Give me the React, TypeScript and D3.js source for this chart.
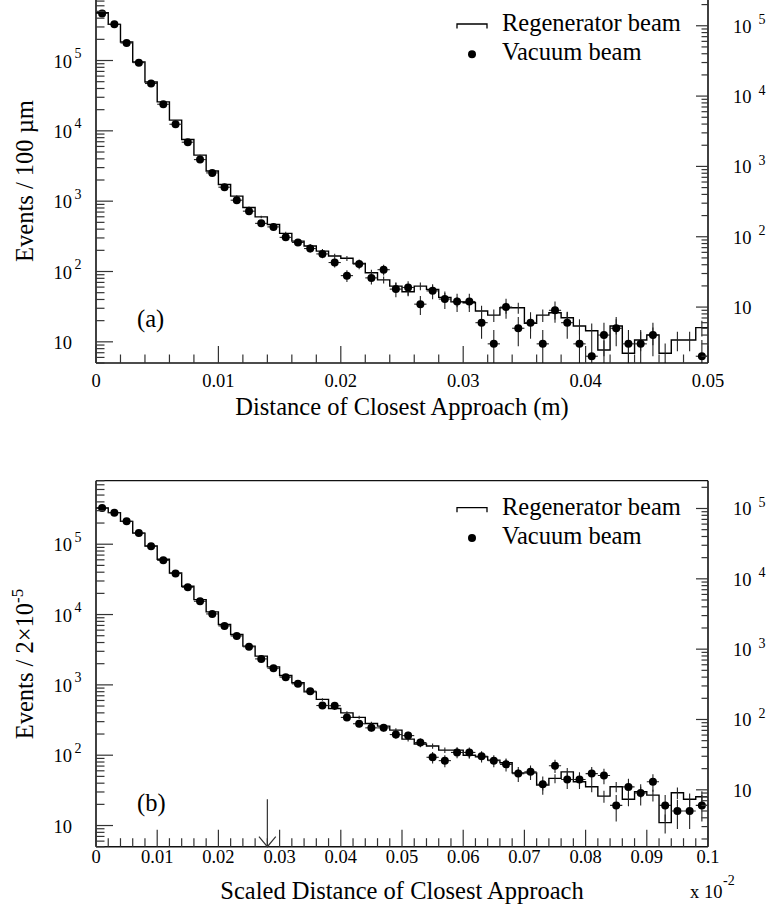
import React from 'react';
import * as d3 from 'd3';

// Canvas
const WIDTH = 767;
const HEIGHT = 915;
const FONT = "'Liberation Serif', 'Times New Roman', serif";

// Shared vertical range of both panels (events, left axis)
const Y_DOMAIN: [number, number] = [5, 8e5];

// Panel (a): distance of closest approach, 50 bins of 1 mm
const xDomainA: [number, number] = [0, 0.05];
const xTicksA = [0, 0.01, 0.02, 0.03, 0.04, 0.05];
const xTickLabelsA = ['0', '0.01', '0.02', '0.03', '0.04', '0.05'];
const vacuumNormA = 3.12; // regenerator / vacuum normalisation (right axis)

const regeneratorA = [
  480000, 327000, 183000, 95300, 49500, 25800, 14200, 7530, 4510, 2690,
  1730, 1180, 814, 598, 467, 348, 270, 230, 195, 166,
  154, 130, 96, 76, 62, 51.5, 62, 55.7, 42.9, 37.1,
  36, 27.4, 24, 30.5, 30.5, 18.3, 24, 25.9, 22, 16.8,
  14.4, 7.65, 16.8, 6.87, 10.6, 12.5, 6.87, 10.6, 10.6, 15.9,
];
const vacuumA = [
  150000, 105000, 56900, 29900, 15100, 7660, 3980, 2210, 1250, 809,
  507, 331, 231, 155, 138, 98, 83, 68, 57, 43,
  28, 41, 26, 34, 18, 19, 11, 17, 13, 12,
  12, 6, 3, 10, 5, 6, 3, 9, 6, 3,
  2, 4, 5, 3, 3, 4, 0, 0, 0, 2,
];

// Panel (b): scaled distance of closest approach (x 10^-2), 50 bins
const xDomainB: [number, number] = [0, 0.1];
const xTicksB = [0, 0.01, 0.02, 0.03, 0.04, 0.05, 0.06, 0.07, 0.08, 0.09, 0.1];
const xTickLabelsB = ['0', '0.01', '0.02', '0.03', '0.04', '0.05', '0.06', '0.07', '0.08', '0.09', '0.1'];
const vacuumNormB = 3.22;
const cutB = 0.028;

const regeneratorB = [
  327000, 281000, 211000, 144000, 94400, 61000, 39000, 25200, 16300, 10900,
  7210, 5200, 3550, 2560, 1800, 1360, 1070, 796, 621, 462,
  400, 345, 283, 259, 227, 169, 144, 135, 118, 118,
  100, 95, 85, 78, 56, 56, 37.6, 46.9, 58, 41.9,
  35.6, 26.2, 35.6, 23.6, 30.2, 27.1, 11, 29.2, 23.6, 25.6,
];
const vacuumB = [
  101500, 87300, 65700, 44800, 29000, 18300, 11900, 7590, 4800, 3170,
  2140, 1540, 1080, 727, 536, 400, 321, 253, 158, 157,
  107, 87, 76, 76, 61, 59, 47, 29, 26, 34,
  34, 30, 26, 23, 17, 18, 12, 22, 14, 14,
  17, 16, 6, 11, 9, 13, 6, 5, 5, 6,
];

const legendLabels = ['Regenerator beam', 'Vacuum beam'];

// Frame geometry
const LEFT = 96;
const RIGHT = 708;
const PANEL_H = 366;

type PanelProps = {
  id: string;
  top: number;
  xDomain: [number, number];
  xTicks: number[];
  xTickLabels: string[];
  xMinorStep: number;
  regenerator: number[];
  vacuum: number[];
  vacuumNorm: number;
  tickLabelDy: number;
  tag: string;
  xTitle: string;
  yTitle: React.ReactNode;
  yTitleCenter: number;
  cut?: number;
  multiplier?: boolean;
};

function logTicks(lo: number, hi: number) {
  const out: { v: number; major: boolean; exp: number }[] = [];
  for (let e = -1; e <= 7; e++) {
    for (let m = 1; m <= 9; m++) {
      const v = m * Math.pow(10, e);
      if (v >= lo * 0.9999 && v <= hi * 1.0001) out.push({ v, major: m === 1, exp: e });
    }
  }
  return out;
}

function Panel(p: PanelProps) {
  const bottom = p.top + PANEL_H;
  const x = d3.scaleLinear().domain(p.xDomain).range([LEFT, RIGHT]);
  const y = d3.scaleLog().domain(Y_DOMAIN).range([bottom, p.top]);
  const yR = d3
    .scaleLog()
    .domain([Y_DOMAIN[0] / p.vacuumNorm, Y_DOMAIN[1] / p.vacuumNorm])
    .range([bottom, p.top]);
  const nb = p.regenerator.length;
  const bw = (p.xDomain[1] - p.xDomain[0]) / nb;

  // regenerator histogram outline
  const pts: [number, number][] = [];
  p.regenerator.forEach((v, i) => {
    pts.push([x(i * bw), y(v)]);
    pts.push([x((i + 1) * bw), y(v)]);
  });
  const histPath = d3.line()(pts) || '';

  const clipId = `clip-${p.id}`;
  const leftTicks = logTicks(Y_DOMAIN[0], Y_DOMAIN[1]);
  const rightTicks = logTicks(yR.domain()[0], yR.domain()[1]);
  const minorX = d3.range(0, Math.round((p.xDomain[1] - p.xDomain[0]) / p.xMinorStep) + 1).map((k) => k * p.xMinorStep);

  const tickStroke = '#333';

  return (
    <g>
      <defs>
        <clipPath id={clipId}>
          <rect x={LEFT} y={p.top} width={RIGHT - LEFT} height={PANEL_H} />
        </clipPath>
      </defs>

      {/* data */}
      <g clipPath={`url(#${clipId})`}>
        <path d={histPath} fill="none" stroke="#000" strokeWidth={1.4} />
        {p.regenerator.map((v, i) => {
          const e = Math.sqrt(v);
          const cx = x((i + 0.5) * bw);
          const lo = v - e > 0 ? y(v - e) : bottom + 5;
          return <line key={`re${i}`} x1={cx} x2={cx} y1={y(v + e)} y2={lo} stroke="#222" strokeWidth={1.1} />;
        })}
        {p.vacuum.map((c, i) => {
          if (c <= 0) return null;
          const e = Math.sqrt(c);
          const cx = x((i + 0.5) * bw);
          const cy = yR(c);
          const lo = c - e > 0 ? yR(c - e) : bottom + 5;
          return (
            <g key={`va${i}`}>
              <line x1={x(i * bw)} x2={x((i + 1) * bw)} y1={cy} y2={cy} stroke="#222" strokeWidth={1.1} />
              <line x1={cx} x2={cx} y1={yR(c + e)} y2={lo} stroke="#222" strokeWidth={1.1} />
              <circle cx={cx} cy={cy} r={4} fill="#000" />
            </g>
          );
        })}
      </g>

      {/* frame */}
      <line x1={LEFT} x2={RIGHT} y1={p.top} y2={p.top} stroke="#111" strokeWidth={1.3} />
      <line x1={LEFT} x2={RIGHT} y1={bottom} y2={bottom} stroke="#111" strokeWidth={1.6} />
      <line x1={LEFT} x2={LEFT} y1={p.top} y2={bottom} stroke="#111" strokeWidth={1.6} />
      <line x1={RIGHT} x2={RIGHT} y1={p.top} y2={bottom} stroke="#111" strokeWidth={1.6} />

      {/* x ticks */}
      {minorX.map((v, k) => {
        const isMajor = xTicksIncludes(p.xTicks, v);
        const len = isMajor ? 17 : 8.5;
        return <line key={`xt${k}`} x1={x(v)} x2={x(v)} y1={bottom} y2={bottom - len} stroke={tickStroke} strokeWidth={1.2} />;
      })}
      {p.xTicks.map((v, k) => (
        <text key={`xl${k}`} x={x(v)} y={bottom + p.tickLabelDy} textAnchor="middle" fontSize={18.5} fontFamily={FONT}>
          {p.xTickLabels[k]}
        </text>
      ))}

      {/* left log axis */}
      {leftTicks.map((t, k) => (
        <line key={`lt${k}`} x1={LEFT} x2={LEFT + (t.major ? 17 : 8.5)} y1={y(t.v)} y2={y(t.v)} stroke={tickStroke} strokeWidth={1.2} />
      ))}
      {leftTicks.filter((t) => t.major).map((t, k) => (
        <g key={`ll${k}`} fontFamily={FONT}>
          <text x={72} y={y(t.v) + 7} textAnchor="end" fontSize={18.5}>10</text>
          {t.exp > 1 && (
            <text x={74.5} y={y(t.v) - 2.5} fontSize={14}>{t.exp}</text>
          )}
        </g>
      ))}

      {/* right log axis (vacuum beam) */}
      {rightTicks.map((t, k) => (
        <line key={`rt${k}`} x1={RIGHT} x2={RIGHT - (t.major ? 12 : 6.5)} y1={yR(t.v)} y2={yR(t.v)} stroke={tickStroke} strokeWidth={1.2} />
      ))}
      {rightTicks.filter((t) => t.major && t.exp >= 1).map((t, k) => (
        <g key={`rl${k}`} fontFamily={FONT}>
          <text x={733} y={yR(t.v) + 7} fontSize={18.5}>10</text>
          {t.exp > 1 && (
            <text x={758.5} y={yR(t.v) - 1.5} fontSize={14}>{t.exp}</text>
          )}
        </g>
      ))}

      {/* legend */}
      <g fontFamily={FONT} fontSize={24.5}>
        <path d={`M457,${p.top + 31.5} V${p.top + 27} H487 V${p.top + 31.5}`} fill="none" stroke="#000" strokeWidth={1.3} />
        <text x={502} y={p.top + 34}>{legendLabels[0]}</text>
        <circle cx={472} cy={p.top + 57.3} r={4} fill="#000" />
        <text x={502} y={p.top + 63}>{legendLabels[1]}</text>
      </g>

      {/* panel tag */}
      <text x={137} y={p.top + 330} fontFamily={FONT} fontSize={24.5}>{p.tag}</text>

      {/* titles */}
      <text x={(LEFT + RIGHT) / 2} y={bottom + 52} textAnchor="middle" fontFamily={FONT} fontSize={24.5}>{p.xTitle}</text>
      <text
        transform={`translate(32.5,${p.yTitleCenter}) rotate(-90)`}
        textAnchor="middle"
        fontFamily={FONT}
        fontSize={24.5}
      >
        {p.yTitle}
      </text>

      {p.cut !== undefined && (
        <g stroke="#333" strokeWidth={1.2} fill="none">
          <line x1={x(p.cut)} x2={x(p.cut)} y1={bottom - 47.5} y2={bottom} />
          <path d={`M${x(p.cut) - 8.4},${bottom - 10} L${x(p.cut)},${bottom} L${x(p.cut) + 8.4},${bottom - 10}`} />
        </g>
      )}

      {p.multiplier && (
        <g fontFamily={FONT}>
          <text x={690} y={bottom + 51.5} fontSize={18.5}>x 10</text>
          <text x={723} y={bottom + 38.5} fontSize={14}>-2</text>
        </g>
      )}
    </g>
  );
}

function xTicksIncludes(ticks: number[], v: number) {
  return ticks.some((t) => Math.abs(t - v) < 1e-9);
}

export default function App() {
  return (
    <svg
      width={WIDTH}
      height={HEIGHT}
      viewBox={`0 0 ${WIDTH} ${HEIGHT}`}
      style={{ position: 'absolute', left: 0, top: 0, background: '#fff' }}
    >
      <rect x={0} y={0} width={WIDTH} height={HEIGHT} fill="#fff" />
      <Panel
        id="a"
        top={-3}
        xDomain={xDomainA}
        xTicks={xTicksA}
        xTickLabels={xTickLabelsA}
        xMinorStep={0.002}
        regenerator={regeneratorA}
        vacuum={vacuumA}
        vacuumNorm={vacuumNormA}
        tickLabelDy={24}
        tag="(a)"
        xTitle="Distance of Closest Approach (m)"
        yTitle="Events / 100 µm"
        yTitleCenter={181}
      />
      <Panel
        id="b"
        top={480.7}
        xDomain={xDomainB}
        xTicks={xTicksB}
        xTickLabels={xTickLabelsB}
        xMinorStep={0.002}
        regenerator={regeneratorB}
        vacuum={vacuumB}
        vacuumNorm={vacuumNormB}
        tickLabelDy={16}
        tag="(b)"
        xTitle="Scaled Distance of Closest Approach"
        yTitle={
          <>
            Events / 2×10
            <tspan dy={-10} fontSize={17}>-5</tspan>
          </>
        }
        yTitleCenter={664}
        cut={cutB}
        multiplier
      />
    </svg>
  );
}
